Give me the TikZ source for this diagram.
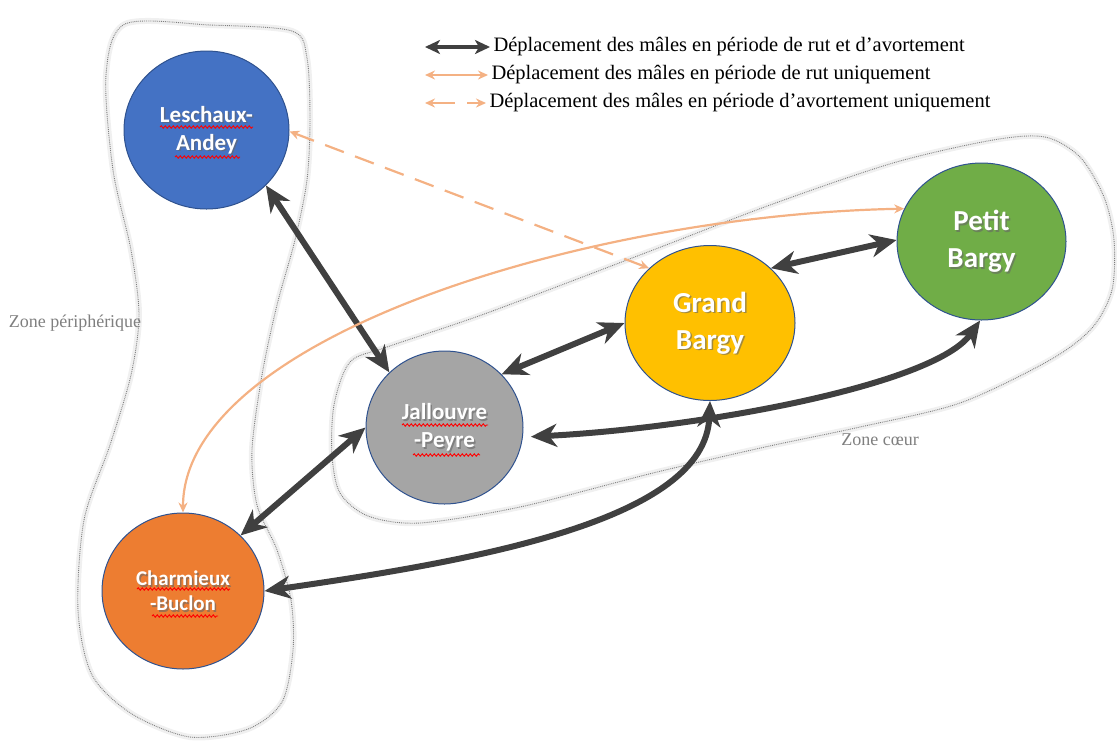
\documentclass[tikz,border=0pt]{standalone}
\usepackage{fontspec}
\setmainfont{Liberation Serif}
\setsansfont{Carlito}
\usetikzlibrary{arrows.meta,shapes.geometric,decorations.pathmorphing}

\definecolor{lescol}{HTML}{4472C4}
\definecolor{jalcol}{HTML}{A5A5A5}
\definecolor{gbcol}{HTML}{FFC000}
\definecolor{pbcol}{HTML}{70AD47}
\definecolor{chcol}{HTML}{ED7D31}
\definecolor{rimcol}{HTML}{2F528F}
\definecolor{rutcol}{HTML}{F4B183}
\definecolor{bothcol}{HTML}{404040}
\definecolor{zonecol}{HTML}{7F7F7F}

\tikzset{
  site/.style={ellipse, draw=rimcol, line width=1pt, inner sep=0pt},
  sitetext/.style={font=\sffamily\bfseries\fontsize{23}{28}\selectfont, text=white, align=center},
  bigtext/.style={font=\sffamily\bfseries\fontsize{29}{37}\selectfont},
  both/.style={draw=bothcol, line width=6pt,
    {Stealth[length=26pt,width=23pt,inset=8pt]}-{Stealth[length=26pt,width=23pt,inset=8pt]}},
  legboth/.style={draw=bothcol, line width=4.5pt,
    {Stealth[length=15pt,width=14pt,inset=4pt]}-{Stealth[length=15pt,width=14pt,inset=4pt]}},
  rut/.style={draw=rutcol, line width=2.2pt, {Stealth[length=10pt,width=9pt]}-{Stealth[length=10pt,width=9pt]}},
  avort/.style={rut, dash pattern=on 20pt off 12pt},
  zone/.style={draw=zonecol, line width=0.9pt, densely dotted},
  zoneglow/.style={draw=black!6, line width=6pt},
  zonetext/.style={font=\fontsize{18}{20}\selectfont, text=zonecol},
  legtext/.style={font=\fontsize{20.5}{24}\selectfont, anchor=west},
  squiggle/.style={draw=red, line width=0.9pt, decorate, decoration={snake, amplitude=1.2pt, segment length=4pt}}
}

% texte blanc avec ombre
\newcommand\sitelabel[3][]{%
  \node[sitetext,#1,text=black!60,opacity=0.6] at ([shift={(1.5,1.5)}]#2) {#3};
  \node[sitetext,#1] at (#2) {#3};
}

\begin{document}
\begin{tikzpicture}[x=1pt,y=-1pt]
    \useasboundingbox (0,0) rectangle (1117,740);

    % Zone périphérique
    \draw[zoneglow] plot[smooth cycle, tension=0.5] coordinates {(125,24) (210,25) (292,31) (307,58) (310,120) (307,180) (295,240) (277,305) (262,375) (252,450) (257,505) (277,550) (291,600) (293,650) (282,702) (248,729) (190,737) (132,714) (92,675) (78,610) (84,520) (110,445) (131,375) (139,315) (131,250) (113,170) (106,75)};
    \draw[zone] plot[smooth cycle, tension=0.5] coordinates {(125,24) (210,25) (292,31) (307,58) (310,120) (307,180) (295,240) (277,305) (262,375) (252,450) (257,505) (277,550) (291,600) (293,650) (282,702) (248,729) (190,737) (132,714) (92,675) (78,610) (84,520) (110,445) (131,375) (139,315) (131,250) (113,170) (106,75)};
    \node[zonetext] (zperi) at (75,323) {Zone périphérique};

    % Zone coeur
    \draw[zoneglow] plot[smooth cycle, tension=0.5] coordinates {(350,362) (387,347) (487,313) (653,250) (770,205) (893,163) (993,140) (1045,137) (1080,157) (1104,197) (1114,240) (1112,290) (1092,328) (1050,360) (960,403) (860,427) (765,447) (653,473) (520,507) (420,523) (368,516) (340,493) (332,455) (334,405)};
    \draw[zone] plot[smooth cycle, tension=0.5] coordinates {(350,362) (387,347) (487,313) (653,250) (770,205) (893,163) (993,140) (1045,137) (1080,157) (1104,197) (1114,240) (1112,290) (1092,328) (1050,360) (960,403) (860,427) (765,447) (653,473) (520,507) (420,523) (368,516) (340,493) (332,455) (334,405)};
    \node[zonetext] (zcoeur) at (880,440) {Zone cœur};

    % Sites
    \node[site, fill=lescol, minimum width=165pt, minimum height=158pt] (lesch) at (206.5,130) {};
    \node[site, fill=jalcol, minimum width=157pt, minimum height=153pt] (jal) at (444.5,427.5) {};
    \node[site, fill=gbcol, minimum width=170pt, minimum height=155pt] (gb) at (710,323) {};
    \node[site, fill=pbcol, minimum width=169pt, minimum height=157pt] (pb) at (981.5,241.5) {};
    \node[site, fill=chcol, minimum width=162pt, minimum height=156pt] (charm) at (183,591) {};

    \sitelabel{lesch}{Leschaux-\\Andey}
    \sitelabel{jal}{Jallouvre\\-Peyre}
    \sitelabel[bigtext]{gb}{Grand\\Bargy}
    \sitelabel[bigtext]{pb}{Petit\\Bargy}
    \sitelabel[font=\sffamily\bfseries\fontsize{21}{25}\selectfont]{charm}{Charmieux\\-Buclon}

    % Soulignements du correcteur
    \draw[squiggle] (160,127) -- (253,127);
    \draw[squiggle] (175,157) -- (240,157);
    \draw[squiggle] (402,425) -- (488,425);
    \draw[squiggle] (413,455) -- (480,455);
    \draw[squiggle] (137,589) -- (230,589);
    \draw[squiggle] (152,616) -- (218,616);

    % Rut et avortement
    \draw[both] (lesch.-43) -- (jal.135);
    \draw[both] (jal.43) -- (gb.180);
    \draw[both] (gb.42) -- (pb.179);
    \draw[both] (jal.180) -- (charm.44);
    \draw[both, shorten <=8pt] (jal.-7) .. controls (700,428) and (935,385) .. (pb.-91);
    \draw[both] (gb.-90) .. controls (705,520) and (480,560) .. (charm.0);

    % Rut uniquement
    \draw[rut] (charm.90) .. controls (183,340) and (580,215) .. (pb.157);

    % Avortement uniquement
    \draw[avort] (lesch.-1) -- (gb.138);

    % Légende
    \coordinate (k1a) at (425,47);
    \coordinate (k2a) at (425,75);
    \coordinate (k3a) at (425,103);
    \node[legtext] (k1) at (490,47) {Déplacement des mâles en période de rut et d’avortement};
    \node[legtext] (k2) at (488,75) {Déplacement des mâles en période de rut uniquement};
    \node[legtext] (k3) at (486,103) {Déplacement des mâles en période d’avortement uniquement};
    \draw[legboth] (k1a) -- (k1.west);
    \draw[rut] (k2a) -- (k2.west);
    \draw[avort, dash pattern=on 24pt off 12pt] (k3a) -- (k3.west);
\end{tikzpicture}
\end{document}
